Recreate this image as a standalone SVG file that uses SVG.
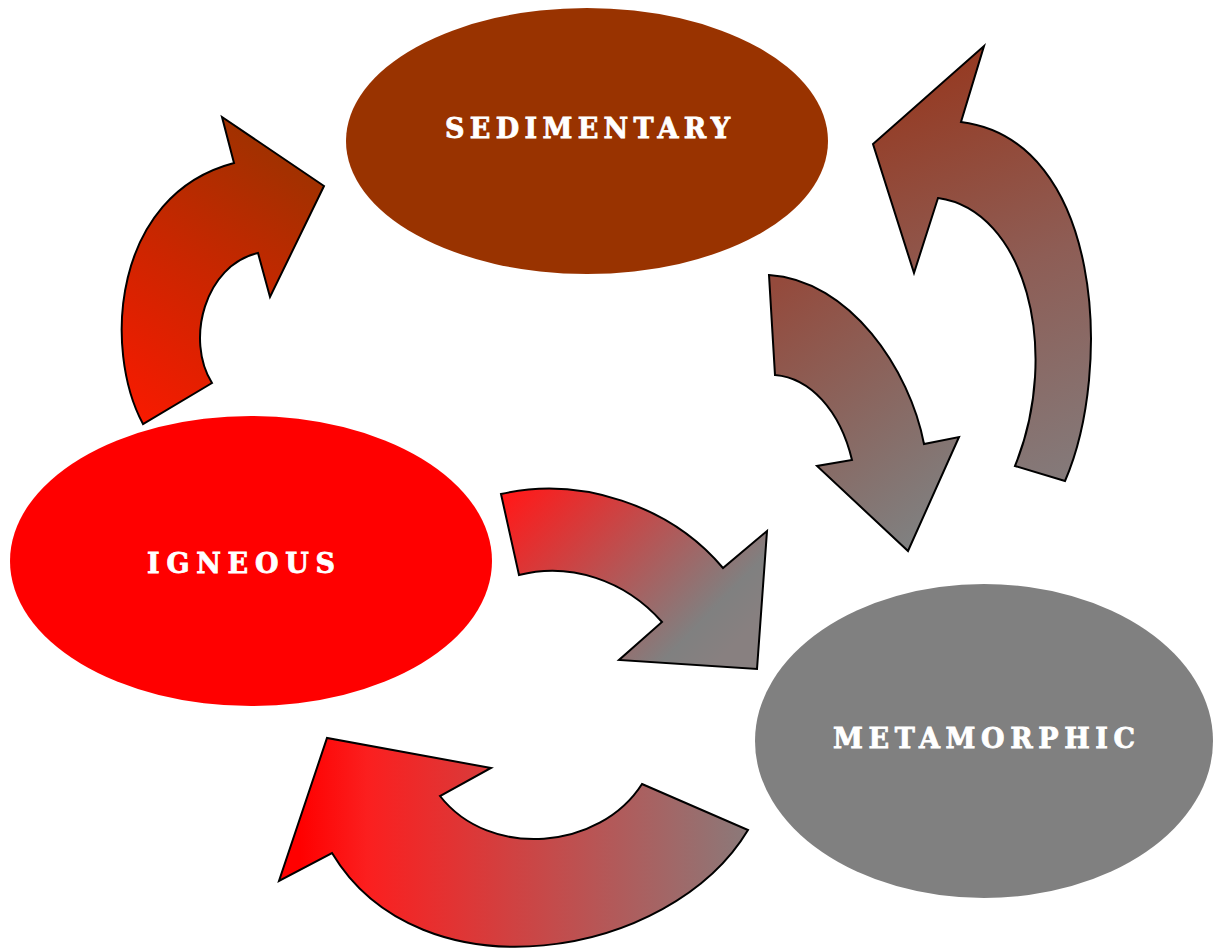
<svg xmlns="http://www.w3.org/2000/svg" width="1217" height="949" viewBox="0 0 1217 949">
<style>
.arrow{stroke:#000;stroke-width:2;stroke-linejoin:miter}
.lbl{font-family:"DejaVu Serif","Liberation Serif",serif;font-weight:bold;font-size:27px;fill:#fff;stroke:#fff;stroke-width:0.8}
</style>
<defs>
<linearGradient id="g1" x1="143" y1="424" x2="324" y2="150" gradientUnits="userSpaceOnUse">
<stop offset="0" stop-color="#f81a00"/><stop offset="1" stop-color="#993300"/>
</linearGradient>
<linearGradient id="g2" x1="900" y1="80" x2="1060" y2="480" gradientUnits="userSpaceOnUse">
<stop offset="0" stop-color="#963a22"/><stop offset="0.5" stop-color="#8e5d55"/><stop offset="1" stop-color="#847a7a"/>
</linearGradient>
<linearGradient id="g3" x1="769" y1="290" x2="940" y2="520" gradientUnits="userSpaceOnUse">
<stop offset="0" stop-color="#944a3c"/><stop offset="1" stop-color="#808080"/>
</linearGradient>
<linearGradient id="g4" x1="520" y1="485" x2="710" y2="670" gradientUnits="userSpaceOnUse">
<stop offset="0" stop-color="#ff1a1a"/><stop offset="0.85" stop-color="#808080"/><stop offset="1" stop-color="#888080"/>
</linearGradient>
<linearGradient id="g5" x1="300" y1="0" x2="750" y2="0" gradientUnits="userSpaceOnUse">
<stop offset="0" stop-color="#ff0000"/><stop offset="0.15" stop-color="#fb1f1f"/><stop offset="1" stop-color="#8a7a7a"/>
</linearGradient>
</defs>
<g id="connectors">
<path class="arrow" fill="url(#g1)" d="M143,424 C103,350 112,195 234,163 L222,117 L324,186 L270,297 L258,253 C205,265 185,340 212,383 Z"/>
<path class="arrow" fill="url(#g2)" d="M1015,466 L1065,481 C1113,370 1103,140 961,122 L984,46 L873,144 L914,273 L938,198 C1025,210 1062,350 1015,466 Z"/>
<path class="arrow" fill="url(#g3)" d="M769,275 C850,280 910,370 924,444 L959,437 L908,551 L817,466 L852,460 C840,410 810,378 775,375 Z"/>
<path class="arrow" fill="url(#g4)" d="M501,494 C580,476 670,505 723,568 L767,531 L757,669 L619,660 L662,622 C625,580 570,562 519,575 Z"/>
<path class="arrow" fill="url(#g5)" d="M642,784 L748,830 C670,960 420,1000 332,853 L279,881 L327,738 L491,768 L440,796 C490,860 600,850 642,784 Z"/>
</g>
<g id="sedimentary">
<ellipse cx="587" cy="141" rx="241" ry="133" fill="#993300"/>
<text class="lbl" x="445" y="138" textLength="285" lengthAdjust="spacing">SEDIMENTARY</text>
</g>
<g id="igneous">
<ellipse cx="251" cy="561" rx="241" ry="145" fill="#ff0000"/>
<text class="lbl" x="147" y="573" textLength="188" lengthAdjust="spacing">IGNEOUS</text>
</g>
<g id="metamorphic">
<ellipse cx="984" cy="741" rx="229" ry="157" fill="#808080"/>
<text class="lbl" x="833" y="748" textLength="302" lengthAdjust="spacing">METAMORPHIC</text>
</g>
</svg>
